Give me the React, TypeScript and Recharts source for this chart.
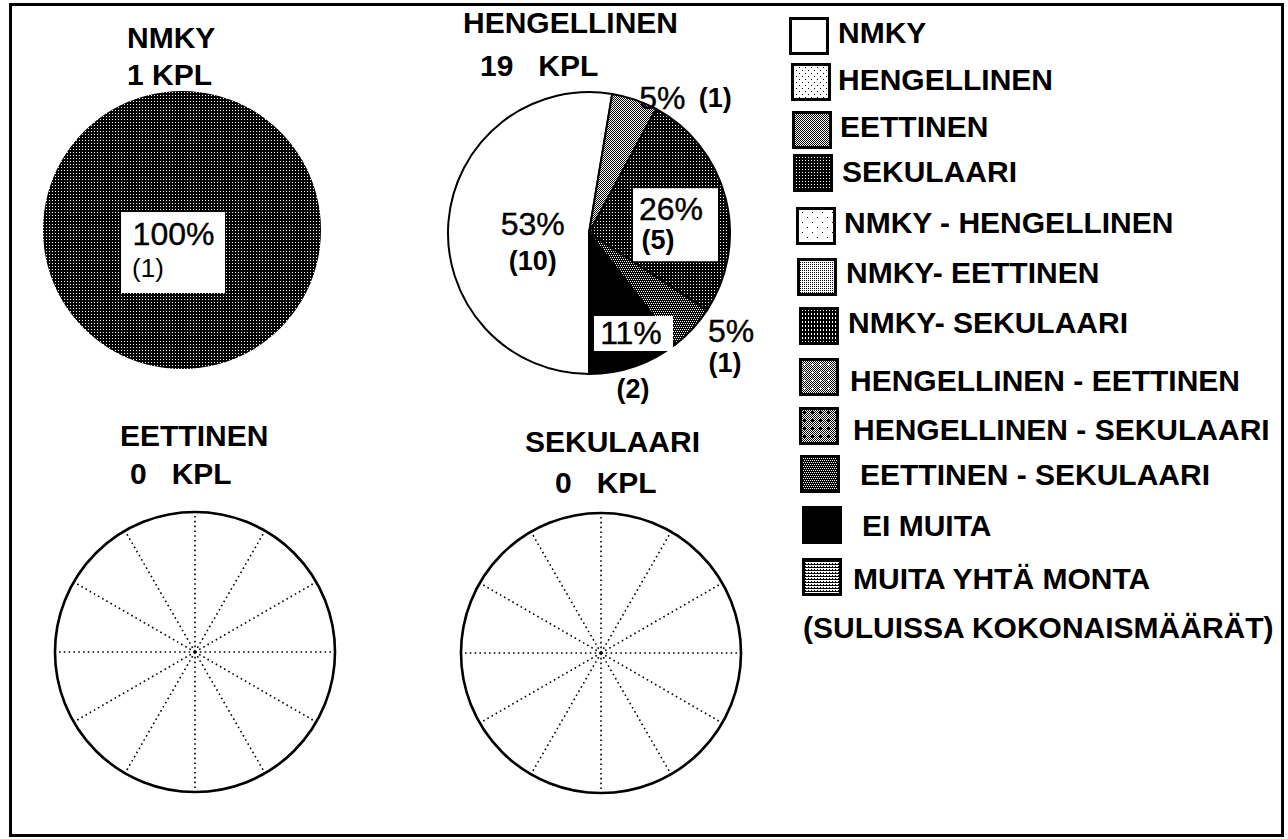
import { PieChart, Pie, Cell, PolarGrid } from "recharts";

const FONT = '"Liberation Sans", Arial, Helvetica, sans-serif';

// legend categories and the fill pattern of each
const categories = [
  "NMKY",
  "HENGELLINEN",
  "EETTINEN",
  "SEKULAARI",
  "NMKY - HENGELLINEN",
  "NMKY- EETTINEN",
  "NMKY- SEKULAARI",
  "HENGELLINEN - EETTINEN",
  "HENGELLINEN - SEKULAARI",
  "EETTINEN - SEKULAARI",
  "EI MUITA",
  "MUITA YHTÄ MONTA",
];
const patternIds = [
  "p-nmky",
  "p-heng",
  "p-eett",
  "p-seku",
  "p-nmky-heng",
  "p-nmky-eett",
  "p-nmky-seku",
  "p-heng-eett",
  "p-heng-seku",
  "p-eett-seku",
  "p-ei",
  "p-muita",
];
const footnote = "(SULUISSA KOKONAISMÄÄRÄT)";

// the four groups
const groupNames = ["NMKY", "HENGELLINEN", "EETTINEN", "SEKULAARI"];
const kplLabels = ["1 KPL", "19   KPL", "0   KPL", "0   KPL"];

// slices per group (counts)
const nmkyCats = ["SEKULAARI"];
const nmkyCounts = [1];
const hengCats = ["NMKY", "EETTINEN", "SEKULAARI", "EETTINEN - SEKULAARI", "EI MUITA"];
const hengCounts = [10, 1, 5, 1, 2];

// layout
const rays = [0, 30, 60, 90, 120, 150, 180, 210, 240, 270, 300, 330];
const BOX_W = 400;
const BOX_H = 380;
const NO_MARGIN = { top: 0, right: 0, bottom: 0, left: 0 };
const pies = [
  { cx: 182, cy: 230, r: 139 },
  { cx: 589, cy: 233, r: 141 },
  { cx: 195, cy: 652, r: 140 },
  { cx: 601, cy: 653, r: 140 },
];
const titleLayout = [
  [127, 37.5, 127, 74],
  [463, 22, 480, 65],
  [120, 435, 130, 473],
  [525, 441, 555, 482],
];
// swatch x, swatch y, text x, text center y
const legendLayout = [
  [789, 17, 838, 32.5],
  [791, 63, 838, 79],
  [792, 111, 840, 126],
  [793, 154, 842, 171.5],
  [796, 207, 844, 222],
  [797, 258, 846, 272.5],
  [799, 307, 848, 322.5],
  [799, 358, 850, 380],
  [799, 407, 853, 429],
  [800, 455, 860, 474.5],
  [802, 506, 862, 525.5],
  [802, 558, 853, 578.5],
];

type LabelSpec = {
  rf: number;
  box?: [number, number, number, number];
  pct: [number, number];
  cnt: [number, number];
};

const nmkyLabels: LabelSpec[] = [{ rf: 0, box: [-61, -18, 104, 81], pct: [-8.5, 3.5], cnt: [-34, 38] }];
const hengLabels: LabelSpec[] = [
  { rf: 0.4, pct: [0, -4], cnt: [0, 33] },
  { rf: 1.1, pct: [23, 12], cnt: [76, 12] },
  { rf: 0.6, box: [-38, -24, 85, 73], pct: [0, -3], cnt: [-13, 28] },
  { rf: 1.1, pct: [28, -7], cnt: [22, 25] },
  { rf: 0.72, box: [-28, -13, 79, 35], pct: [9, 4], cnt: [11, 60] },
];

const fillOf = (cat: string) => `url(#${patternIds[categories.indexOf(cat)]})`;

function makeLabel(specs: LabelSpec[], cntBold: boolean, cntSize: number) {
  return (p: any) => {
    const s = specs[p.index];
    if (!s) return null;
    const rad = Math.PI / 180;
    const x = p.cx + s.rf * p.outerRadius * Math.cos(-p.midAngle * rad);
    const y = p.cy + s.rf * p.outerRadius * Math.sin(-p.midAngle * rad);
    return (
      <g transform={`translate(${x},${y})`}>
        {s.box && <rect x={s.box[0]} y={s.box[1]} width={s.box[2]} height={s.box[3]} fill="#fff" />}
        <text
          x={s.pct[0]}
          y={s.pct[1]}
          textAnchor="middle"
          dominantBaseline="central"
          fontFamily={FONT}
          fontSize={32}
          fill="#000"
          stroke="#000"
          strokeWidth={0.4}
        >
          {`${Math.round(p.percent * 100)}%`}
        </text>
        <text
          x={s.cnt[0]}
          y={s.cnt[1]}
          textAnchor="middle"
          dominantBaseline="central"
          fontFamily={FONT}
          fontSize={cntSize}
          fontWeight={cntBold ? "bold" : "normal"}
          fill="#000"
        >
          {`(${p.value})`}
        </text>
      </g>
    );
  };
}

function Patterns() {
  const px = (x: number, y: number, c = "#000", w = 1, h = 1) => (
    <rect key={`${x}-${y}-${w}-${h}-${c}`} x={x} y={y} width={w} height={h} fill={c} />
  );
  const checker = (n: number) => {
    const out = [];
    for (let y = 0; y < n; y++) for (let x = 0; x < n; x++) if ((x + y) % 2 === 0) out.push(px(x, y));
    return out;
  };
  return (
    <svg width={0} height={0} style={{ position: "absolute" }}>
      <defs>
        <pattern id="p-nmky" width={4} height={4} patternUnits="userSpaceOnUse">
          <rect width={4} height={4} fill="#fff" />
        </pattern>
        <pattern id="p-heng" width={6} height={6} patternUnits="userSpaceOnUse">
          <rect width={6} height={6} fill="#fff" />
          {px(1, 1)}
          {px(4, 4)}
        </pattern>
        <pattern id="p-eett" width={2} height={2} patternUnits="userSpaceOnUse">
          <rect width={2} height={2} fill="#fff" />
          {px(0, 0)}
          {px(1, 1)}
        </pattern>
        <pattern id="p-seku" width={3} height={3} patternUnits="userSpaceOnUse">
          <rect width={3} height={3} fill="#000" />
          {px(1, 1, "#fff")}
        </pattern>
        <pattern id="p-nmky-heng" width={10} height={10} patternUnits="userSpaceOnUse">
          <rect width={10} height={10} fill="#fff" />
          {px(2, 2)}
          {px(7, 7)}
        </pattern>
        <pattern id="p-nmky-eett" width={2} height={2} patternUnits="userSpaceOnUse">
          <rect width={2} height={2} fill="#fff" />
          {px(0, 0)}
        </pattern>
        <pattern id="p-nmky-seku" width={3} height={4} patternUnits="userSpaceOnUse">
          <rect width={3} height={4} fill="#000" />
          {px(1, 1, "#fff")}
          {px(1, 2, "#fff")}
        </pattern>
        <pattern id="p-heng-eett" width={8} height={8} patternUnits="userSpaceOnUse">
          <rect width={8} height={8} fill="#fff" />
          {checker(8)}
          {px(3, 4, "#fff", 3, 1)}
          {px(4, 3, "#fff", 1, 3)}
        </pattern>
        <pattern id="p-heng-seku" width={8} height={8} patternUnits="userSpaceOnUse">
          <rect width={8} height={8} fill="#fff" />
          {checker(8)}
          {px(3, 4, "#000", 3, 1)}
          {px(4, 3, "#000", 1, 3)}
        </pattern>
        <pattern id="p-eett-seku" width={4} height={4} patternUnits="userSpaceOnUse">
          <rect width={4} height={4} fill="#000" />
          {px(0, 0, "#fff")}
          {px(2, 0, "#fff")}
          {px(1, 2, "#fff")}
          {px(3, 2, "#fff")}
        </pattern>
        <pattern id="p-ei" width={4} height={4} patternUnits="userSpaceOnUse">
          <rect width={4} height={4} fill="#000" />
        </pattern>
        <pattern id="p-muita" width={3} height={3} patternUnits="userSpaceOnUse">
          <rect width={3} height={3} fill="#fff" />
          {px(0, 0, "#000", 3, 1)}
          {px(1, 2)}
        </pattern>
      </defs>
    </svg>
  );
}

function ChartBox({ i, children }: { i: number; children: React.ReactNode }) {
  const p = pies[i];
  return (
    <div
      style={{
        position: "absolute",
        left: p.cx - BOX_W / 2,
        top: p.cy - BOX_H / 2,
        width: BOX_W,
        height: BOX_H,
      }}
    >
      {children}
    </div>
  );
}

function EmptyPie({ i }: { i: number }) {
  const p = pies[i];
  return (
    <ChartBox i={i}>
      <PieChart
        width={BOX_W}
        height={BOX_H}
        margin={NO_MARGIN}
        cx={BOX_W / 2}
        cy={BOX_H / 2}
        outerRadius={p.r}
      >
        <PolarGrid
          cx={BOX_W / 2}
          cy={BOX_H / 2}
          innerRadius={0}
          outerRadius={p.r}
          gridType="circle"
          polarAngles={rays}
          polarRadius={[]}
          stroke="#000"
          strokeWidth={1.6}
          strokeDasharray="1.6 3.2"
        />
        <PolarGrid
          cx={BOX_W / 2}
          cy={BOX_H / 2}
          innerRadius={0}
          outerRadius={p.r}
          gridType="circle"
          radialLines={false}
          polarAngles={[]}
          polarRadius={[p.r]}
          stroke="#000"
          strokeWidth={2.6}
          fill="none"
        />
      </PieChart>
    </ChartBox>
  );
}

export default function App() {
  const nmkyData = nmkyCats.map((c, k) => ({ name: c, value: nmkyCounts[k] }));
  const hengData = hengCats.map((c, k) => ({ name: c, value: hengCounts[k] }));

  return (
    <div
      style={{
        position: "absolute",
        left: 0,
        top: 0,
        width: 1288,
        height: 839,
        background: "#fff",
        overflow: "hidden",
      }}
    >
      <Patterns />

      <ChartBox i={0}>
        <PieChart width={BOX_W} height={BOX_H} margin={NO_MARGIN}>
          <Pie
            data={nmkyData}
            dataKey="value"
            nameKey="name"
            cx={BOX_W / 2}
            cy={BOX_H / 2}
            outerRadius={pies[0].r}
            startAngle={90}
            endAngle={-270}
            stroke="none"
            labelLine={false}
            label={makeLabel(nmkyLabels, false, 26)}
            isAnimationActive={false}
          >
            {nmkyData.map((d) => (
              <Cell key={d.name} fill={fillOf(d.name)} />
            ))}
          </Pie>
        </PieChart>
      </ChartBox>

      <ChartBox i={1}>
        <PieChart width={BOX_W} height={BOX_H} margin={NO_MARGIN}>
          <Pie
            data={hengData}
            dataKey="value"
            nameKey="name"
            cx={BOX_W / 2}
            cy={BOX_H / 2}
            outerRadius={pies[1].r}
            startAngle={270}
            endAngle={-90}
            stroke="#000"
            strokeWidth={2}
            labelLine={false}
            label={makeLabel(hengLabels, true, 27)}
            isAnimationActive={false}
          >
            {hengData.map((d) => (
              <Cell key={d.name} fill={fillOf(d.name)} />
            ))}
          </Pie>
        </PieChart>
      </ChartBox>

      <EmptyPie i={2} />
      <EmptyPie i={3} />

      <svg
        width={1288}
        height={839}
        style={{ position: "absolute", left: 0, top: 0, pointerEvents: "none" }}
        fontFamily={FONT}
        fontWeight="bold"
        fontSize={30}
      >
        <rect x={10.5} y={4.5} width={1272} height={831} fill="none" stroke="#000" strokeWidth={3} />

        {groupNames.map((g, k) => {
          const t = titleLayout[k];
          return (
            <g key={g}>
              <text x={t[0]} y={t[1]} dominantBaseline="central" style={{ whiteSpace: "pre" }}>
                {g}
              </text>
              <text x={t[2]} y={t[3]} dominantBaseline="central" style={{ whiteSpace: "pre" }}>
                {kplLabels[k]}
              </text>
            </g>
          );
        })}

        {categories.map((c, k) => {
          const l = legendLayout[k];
          return (
            <g key={c}>
              <rect
                x={l[0] + 1.5}
                y={l[1] + 1.5}
                width={37}
                height={35}
                fill={`url(#${patternIds[k]})`}
                stroke="#000"
                strokeWidth={3}
              />
              <text x={l[2]} y={l[3]} dominantBaseline="central" style={{ whiteSpace: "pre" }}>
                {c}
              </text>
            </g>
          );
        })}
        <text x={803} y={627} dominantBaseline="central" style={{ whiteSpace: "pre" }}>
          {footnote}
        </text>
      </svg>
    </div>
  );
}
